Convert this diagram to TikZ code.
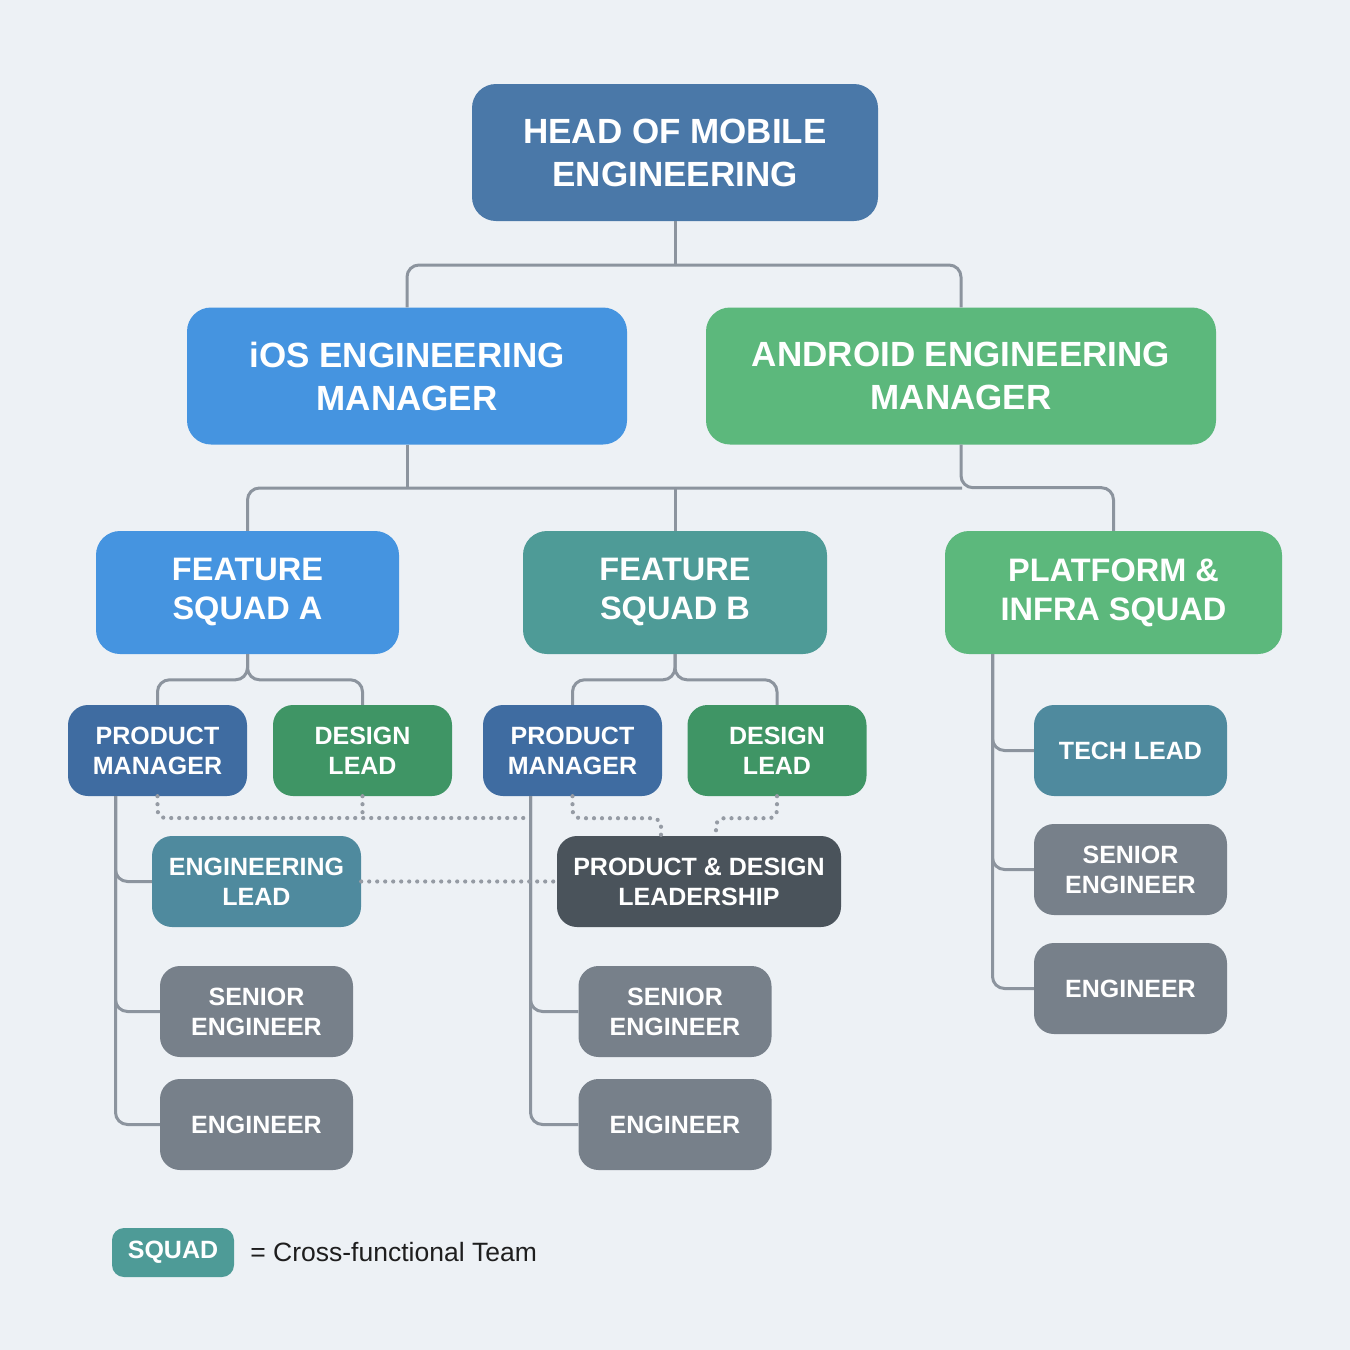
\documentclass[tikz,border=0pt]{standalone}
\usepackage{fontspec}
\setmainfont{Liberation Sans}
\usepackage{xcolor}
\usepackage{tikz}
\usetikzlibrary{positioning,calc}
\definecolor{bgcol}{HTML}{EDF1F5}
\definecolor{headblue}{HTML}{4A78A8}
\definecolor{iosblue}{HTML}{4594E0}
\definecolor{droidgreen}{HTML}{5CB87C}
\definecolor{squadteal}{HTML}{4E9B97}
\definecolor{pmblue}{HTML}{3F6CA1}
\definecolor{dlgreen}{HTML}{3F9565}
\definecolor{leadteal}{HTML}{4F8A9E}
\definecolor{pdgray}{HTML}{4A535B}
\definecolor{enggray}{HTML}{77808A}
\definecolor{linegray}{HTML}{8C949E}
\definecolor{dotgray}{HTML}{959BA4}
\definecolor{textdark}{HTML}{1E1E1E}

\tikzset{
  box/.style={rounded corners=24pt, text=white, align=center, inner sep=0pt},
  bigbox/.style={box, minimum height=137pt, font=\fontsize{35}{43}\selectfont\bfseries},
  squadbox/.style={box, minimum height=123pt, font=\fontsize{32.5}{39}\selectfont\bfseries},
  rolebox/.style={box, rounded corners=20pt, minimum height=91pt, font=\fontsize{25}{30}\selectfont\bfseries},
  conn/.style={draw=linegray, line width=3pt, rounded corners=12pt},
  dotline/.style={draw=dotgray, line width=4.2pt, line cap=round, dash pattern=on 0pt off 8pt, rounded corners=8pt},
}

\begin{document}
\begin{tikzpicture}[x=1pt, y=-1pt]
\fill[bgcol] (0,0) rectangle (1350,1350);
\useasboundingbox (0,0) rectangle (1350,1350);

% top levels
\node[bigbox, fill=headblue, minimum width=406pt] (head) at (675,152.5) {HEAD OF MOBILE\\ENGINEERING};
\node[bigbox, fill=iosblue, minimum width=440pt] (ios) at (407,376) {iOS ENGINEERING\\MANAGER};
\node[bigbox, fill=droidgreen, minimum width=510pt] (android) at (961,376) {ANDROID ENGINEERING\\MANAGER};

% squads
\node[squadbox, fill=iosblue, minimum width=303pt] (sqa) at (247.5,592.5) {FEATURE\\SQUAD A};
\node[squadbox, fill=squadteal, minimum width=304pt] (sqb) at (675,592.5) {FEATURE\\SQUAD B};
\node[squadbox, fill=droidgreen, minimum width=337pt] (plat) at (1113.5,592.5) {PLATFORM \&\\INFRA SQUAD};

% squad A
\node[rolebox, fill=pmblue, minimum width=179pt] (pma) at (157.5,750.5) {PRODUCT\\MANAGER};
\node[rolebox, fill=dlgreen, minimum width=179pt] (dla) at (362.5,750.5) {DESIGN\\LEAD};
\node[rolebox, fill=leadteal, minimum width=209pt] (englead) at (256.5,881.5) {ENGINEERING\\LEAD};
\node[rolebox, fill=enggray, minimum width=193pt] (sra) at (256.5,1011.5) {SENIOR\\ENGINEER};
\node[rolebox, fill=enggray, minimum width=193pt] (enga) at (256.5,1124.5) {ENGINEER};

% squad B
\node[rolebox, fill=pmblue, minimum width=179pt] (pmb) at (572.5,750.5) {PRODUCT\\MANAGER};
\node[rolebox, fill=dlgreen, minimum width=179pt] (dlb) at (777,750.5) {DESIGN\\LEAD};
\node[rolebox, fill=pdgray, minimum width=284pt] (pdlead) at (699,881.5) {PRODUCT \& DESIGN\\LEADERSHIP};
\node[rolebox, fill=enggray, minimum width=193pt] (srb) at (675,1011.5) {SENIOR\\ENGINEER};
\node[rolebox, fill=enggray, minimum width=193pt] (engb) at (675,1124.5) {ENGINEER};

% platform squad
\node[rolebox, fill=leadteal, minimum width=193pt] (tech) at (1130.5,750.5) {TECH LEAD};
\node[rolebox, fill=enggray, minimum width=193pt] (srp) at (1130.5,869.5) {SENIOR\\ENGINEER};
\node[rolebox, fill=enggray, minimum width=193pt] (engp) at (1130.5,988.5) {ENGINEER};

% legend
\node[box, rounded corners=12pt, fill=squadteal, minimum width=122pt, minimum height=49pt, font=\fontsize{25}{30}\selectfont\bfseries] (legsquad) at (173,1252.5) {SQUAD};
\node[right=16pt of legsquad, inner sep=0pt, text=textdark, font=\fontsize{26.5}{30}\selectfont] (legtext) {= Cross-functional Team};

% reporting lines
\coordinate (topbus) at (675,265);
\draw[conn] (head.south) -- (topbus);
\draw[conn] (topbus) -| (ios.north);
\draw[conn] (topbus) -| (android.north);

\coordinate (busend) at (962,488);
\draw[conn] (ios.south) -- (ios.south |- busend);
\draw[conn] (sqa.north) |- (busend);
\draw[conn] (sqb.north) -- (sqb.north |- busend);
\draw[conn] (android.south) -- ++(0,43) -| (plat.north);

\draw[conn] (sqa.south) |- ([yshift=25pt]pma.north) -- (pma.north);
\draw[conn] (sqa.south) |- ([yshift=25pt]dla.north) -- (dla.north);
\draw[conn] (sqb.south) |- ([yshift=25pt]pmb.north) -- (pmb.north);
\draw[conn] (sqb.south) |- ([yshift=25pt]dlb.north) -- (dlb.north);

\coordinate (pmaleg) at ([xshift=-42pt]pma.south);
\draw[conn] (pmaleg) |- (englead.west);
\draw[conn] (pmaleg) |- (sra.west);
\draw[conn] (pmaleg) |- (enga.west);

\coordinate (pmbleg) at ([xshift=-42pt]pmb.south);
\draw[conn] (pmbleg) |- (srb.west);
\draw[conn] (pmbleg) |- (engb.west);

\coordinate (platleg) at ([xshift=-121pt]plat.south);
\draw[conn] (platleg) |- (tech.west);
\draw[conn] (platleg) |- (srp.west);
\draw[conn] (platleg) |- (engp.west);

% dotted links
\coordinate (dotend) at (531,818);
\draw[dotline] (pma.south) |- (dotend);
\draw[dotline] (dla.south) -- (dla.south |- dotend);
\draw[dotline] (pmb.south) -- ++(0,22) -| ([xshift=-38pt]pdlead.north);
\draw[dotline] (dlb.south) -- ++(0,22) -| ([xshift=17pt]pdlead.north);
\draw[dotline] (englead.east) -- (pdlead.west);
\end{tikzpicture}
\end{document}
